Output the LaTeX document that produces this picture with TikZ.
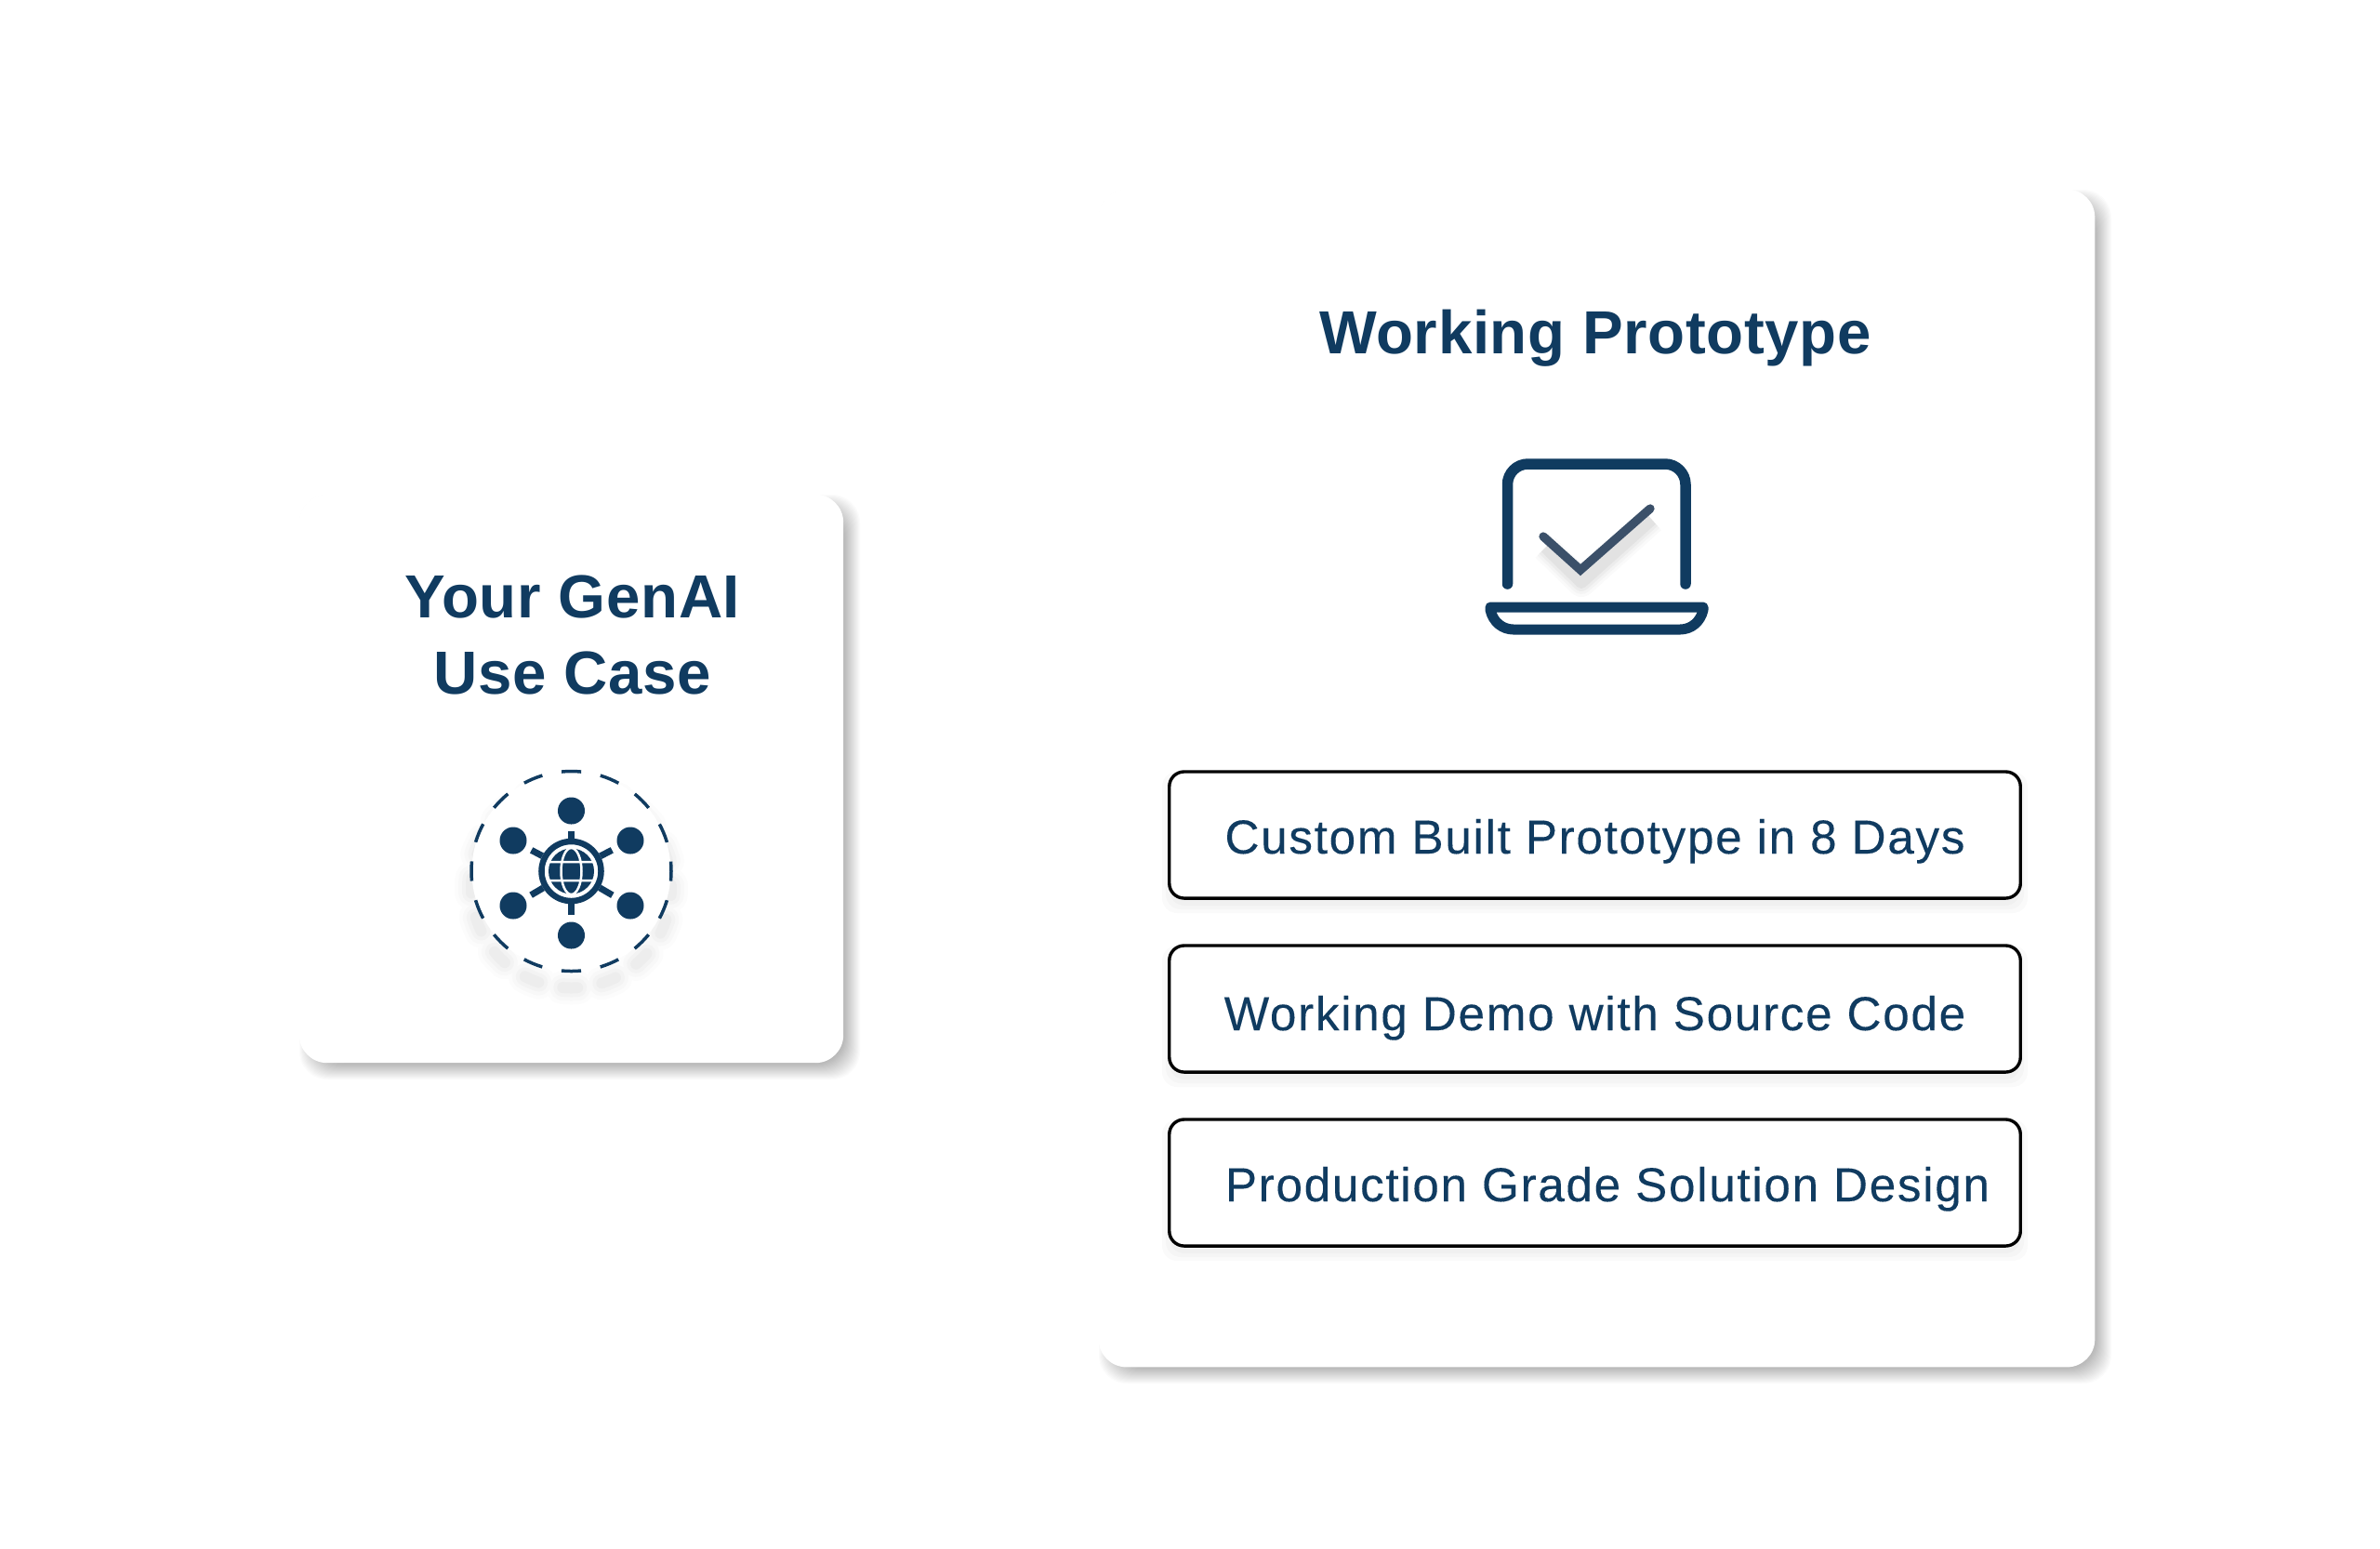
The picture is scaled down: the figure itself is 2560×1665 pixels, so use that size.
\documentclass[tikz,border=0pt]{standalone}
\usepackage{fontspec}
\setmainfont{Liberation Sans}
\newfontfamily\headfont[LetterSpace=1.0]{Liberation Sans Bold}
\newfontfamily\bodyfont[LetterSpace=3.2,FakeBold=0.15]{Liberation Sans}
\usepackage{xcolor}
\usetikzlibrary{calc}
\definecolor{navy}{HTML}{103B60}
\definecolor{tickgray}{HTML}{3B5069}
\tikzset{
  card/.style={fill=white,rounded corners=.3cm,inner sep=0pt},
  itembox/.style={draw=black,line width=.034cm,fill=white,rounded corners=.16cm,
    minimum width=9.15cm,minimum height=1.36cm,inner sep=0pt},
  heading/.style={text=navy,font=\fontsize{18.6}{23.3}\selectfont\headfont,align=center,inner sep=0pt},
  itemtext/.style={text=navy,font=\fontsize{14.6}{17}\selectfont\bodyfont,anchor=base,inner sep=0pt},
  dot/.style={circle,fill=navy,minimum size=.29cm,inner sep=0pt},
  spoke/.style={navy,line width=.07cm,shorten >=.07cm},
  outline/.style={navy,line width=.115cm,line cap=round,line join=round}
}
% soft shadow: corners, then offset
\newcommand{\softshadow}[7]{
  \foreach \e in {-#7,...,#7}
    \fill[black,opacity=#6,rounded corners=.3cm]
      (#1+#5-\e,#2+#5-\e) rectangle (#3+#5+\e,#4+#5+\e);
}
\begin{document}
\begin{tikzpicture}[x=.01cm,y=-.01cm]
  \useasboundingbox[fill=white] (0,0) rectangle (2560,1665);

  % the two cards
  \softshadow{322}{532}{907}{1143}{9}{.016}{9}
  \softshadow{1182}{204}{2253}{1470}{9}{.016}{9}
  \node[card,minimum width=5.85cm,minimum height=6.11cm] (usecase) at (614.5,837.5) {};
  \node[card,minimum width=10.71cm,minimum height=12.66cm] (prototype) at (1717.5,837) {};

  \node[heading] (usecasetitle) at (616,683) {Your GenAI\\Use Case};
  \node[heading] (prototypetitle) at (1716,364) {Working Prototype};

  % network icon
  \coordinate (ring) at (614.5,937);
  \foreach \w/\o in {36/.012,28/.016,20/.02,12/.025}
    \draw[black,opacity=\o,line width=\w*.01cm,line cap=round,
      dash pattern=on .16cm off .265cm,dash phase=.08cm]
      (614.5,955) circle [radius=107.5];
  \fill[white] (ring) circle [radius=107];
  \draw[navy,line width=.035cm,dash pattern=on .211cm off .211cm,dash phase=.1055cm]
    (ring) circle [radius=107.5];
  \node[circle,draw=navy,line width=.065cm,fill=white,minimum size=.64cm,inner sep=0pt] (hub) at (ring) {};
  \fill[navy] (hub.center) circle [radius=24.5];
  \draw[white,line width=.025cm]
    (hub.center) ellipse [x radius=11,y radius=25]
    ($(hub.center)+(-25,-10)$) -- ($(hub.center)+(25,-10)$)
    ($(hub.center)+(-25,10)$) -- ($(hub.center)+(25,10)$);
  \foreach \name/\px/\py in {n/614.5/872,ne/678/904,se/678/974,s/614.5/1006,sw/552/974,nw/552/904} {
    \node[dot] (dot\name) at (\px,\py) {};
    \draw[spoke] (hub) -- (dot\name);
  }

  % laptop icon
  \draw[outline,rounded corners=.22cm] (1621.5,628) -- (1621.5,499) -- (1813,499) -- (1813,628);
  \draw[outline,line width=.11cm] (1603,653) -- (1832,653) -- (1832,656)
    .. controls (1829,669) and (1819,677) .. (1807,677) -- (1628,677)
    .. controls (1616,677) and (1606,669) .. (1603,656) -- cycle;
  \foreach \w/\o in {30/.02,24/.025,18/.03,12/.04}
    \draw[black,opacity=\o,line width=\w*.01cm,line join=round]
      (1662,589) -- (1701,627) -- (1777,559);
  \draw[tickgray,line width=.093cm,line cap=round,line join=miter]
    (1660,577) -- (1700,613) -- (1775,547);

  % the three items
  \foreach \y in {898,1085,1272}
    \foreach \e in {0,4,8}
      \fill[black,opacity=.02,rounded corners=.16cm]
        (1258-\e,\y-68+8-\e) rectangle (2173+\e,\y+68+8+\e);
  \node[itembox] (itema) at (1715.5,898) {};
  \node[itembox] (itemb) at (1715.5,1085) {};
  \node[itembox] (itemc) at (1715.5,1272) {};
  \node[itemtext] (texta) at (1715.5,918) {Custom Built Prototype in 8 Days};
  \node[itemtext] (textb) at (1715.5,1108) {Working Demo with Source Code};
  \node[itemtext] (textc) at (1729,1292) {Production Grade Solution Design};
\end{tikzpicture}
\end{document}
